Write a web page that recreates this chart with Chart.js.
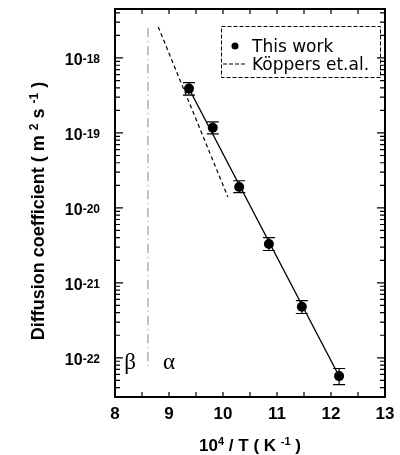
<!DOCTYPE html>
<html>
<head>
<meta charset="utf-8">
<script src="https://cdn.jsdelivr.net/npm/chart.js@4.4.0/dist/chart.umd.min.js"></script>
<style>
  html, body { margin: 0; padding: 0; background: #fff; }
  canvas { display: block; }
</style>
</head>
<body>
<canvas id="diffChart" width="400" height="455"></canvas>
<script>
// This work: 10^4/T and diffusion coefficient (m^2 s^-1)
const invT = [9.37, 9.81, 10.30, 10.85, 11.46, 12.15];
const diffCoef = [3.9e-19, 1.17e-19, 1.9e-20, 3.3e-21, 4.8e-22, 5.7e-23];
const errLow = [3.2e-19, 0.97e-19, 1.6e-20, 2.7e-21, 3.9e-22, 4.4e-23];
const errHigh = [4.7e-19, 1.4e-19, 2.3e-20, 4.0e-21, 5.8e-22, 7.2e-23];

// fit through this work
const fitX = [9.37, 12.15];
const fitY = [3.9e-19, 5.7e-23];

// Köppers et.al.
const koppersX = [8.80, 10.09];
const koppersY = [2.6e-18, 1.4e-20];

// beta / alpha boundary
const phaseX = [8.61, 8.61];
const phaseY = [2.5e-18, 7e-23];

// axes
const xTickLabels = [8, 9, 10, 11, 12, 13];
const xMinorTicks = [8.5, 9.5, 10.5, 11.5, 12.5];
const yExponents = [-18, -19, -20, -21, -22];

const FONT = '"Liberation Sans", Arial, sans-serif';

function toPoints(xs, ys) {
    return xs.map((x, i) => ({x: x, y: ys[i]}));
}

// text with raised small parts, parts = [[text, isSup], ...]
function richWidth(ctx, parts, size, supSize) {
    let w = 0;
    parts.forEach(p => {
        ctx.font = 'bold ' + (p[1] ? supSize : size) + 'px ' + FONT;
        w += ctx.measureText(p[0]).width;
    });
    return w;
}
function drawRich(ctx, parts, x, y, size, supSize, raise) {
    parts.forEach(p => {
        ctx.font = 'bold ' + (p[1] ? supSize : size) + 'px ' + FONT;
        ctx.fillText(p[0], x, p[1] ? y - raise : y);
        x += ctx.measureText(p[0]).width;
    });
}

const errorBars = {
    id: 'errorBars',
    beforeDatasetsDraw(chart) {
        const ctx = chart.ctx, xs = chart.scales.x, ys = chart.scales.y;
        ctx.save();
        ctx.strokeStyle = '#000';
        ctx.lineWidth = 1.2;
        invT.forEach((t, i) => {
            const px = xs.getPixelForValue(t);
            const top = ys.getPixelForValue(errHigh[i]);
            const bot = ys.getPixelForValue(errLow[i]);
            ctx.beginPath();
            ctx.moveTo(px, top); ctx.lineTo(px, bot);
            ctx.moveTo(px - 6, top); ctx.lineTo(px + 6, top);
            ctx.moveTo(px - 6, bot); ctx.lineTo(px + 6, bot);
            ctx.stroke();
        });
        ctx.restore();
    }
};

const frameAndLabels = {
    id: 'frameAndLabels',
    afterDraw(chart) {
        const ctx = chart.ctx, a = chart.chartArea, xs = chart.scales.x, ys = chart.scales.y;
        ctx.save();
        ctx.strokeStyle = '#000';
        ctx.fillStyle = '#000';

        // frame
        ctx.lineWidth = 2;
        ctx.strokeRect(a.left, a.top, a.right - a.left, a.bottom - a.top);

        // inward ticks
        ctx.lineWidth = 1.2;
        ctx.beginPath();
        xTickLabels.concat(xMinorTicks).forEach(v => {
            const px = xs.getPixelForValue(v);
            ctx.moveTo(px, a.bottom); ctx.lineTo(px, a.bottom - 5);
            ctx.moveTo(px, a.top); ctx.lineTo(px, a.top + 5);
        });
        for (let e = -23; e <= -18; e++) {
            for (let k = 1; k <= 9; k++) {
                const v = k * Math.pow(10, e);
                if (v < ys.min || v > ys.max) continue;
                const py = ys.getPixelForValue(v);
                const len = k === 1 ? 8 : 5;
                ctx.moveTo(a.left, py); ctx.lineTo(a.left + len, py);
                ctx.moveTo(a.right, py); ctx.lineTo(a.right - len, py);
            }
        }
        ctx.stroke();

        // x tick labels
        ctx.font = 'bold 17px ' + FONT;
        ctx.textAlign = 'center';
        ctx.textBaseline = 'alphabetic';
        xTickLabels.forEach(v => {
            ctx.fillText(String(v), xs.getPixelForValue(v), 419);
        });

        // y tick labels 10^n
        ctx.textAlign = 'left';
        yExponents.forEach(e => {
            const py = ys.getPixelForValue(Math.pow(10, e));
            const parts = [['10', false], [String(e), true]];
            const w = richWidth(ctx, parts, 16, 12);
            drawRich(ctx, parts, 100 - w, py + 7, 16, 12, 2);
        });

        // x title
        const xt = [['10', false], ['4', true], [' / T ( K ', false], ['-1', true], [' )', false]];
        const xw = richWidth(ctx, xt, 17, 11);
        drawRich(ctx, xt, (a.left + a.right) / 2 - xw / 2, 451, 17, 11, 6);

        // y title
        const yt = [['Diffusion coefficient ( m ', false], ['2', true], [' s ', false], ['-1', true], [' )', false]];
        ctx.save();
        ctx.translate(44, 211);
        ctx.rotate(-Math.PI / 2);
        const yw = richWidth(ctx, yt, 18, 12);
        drawRich(ctx, yt, -yw / 2, 0, 18, 12, 6);
        ctx.restore();

        // phase labels
        ctx.font = '23px "Liberation Serif", serif';
        ctx.textAlign = 'center';
        ctx.fillText('β', 130, 369);
        ctx.fillText('α', 169, 369);

        // legend
        ctx.lineWidth = 1;
        ctx.setLineDash([4, 2]);
        ctx.strokeRect(221.5, 26.5, 159, 51);
        ctx.beginPath();
        ctx.moveTo(223, 64); ctx.lineTo(246, 64);
        ctx.stroke();
        ctx.setLineDash([]);
        ctx.beginPath();
        ctx.arc(235, 46, 3.5, 0, Math.PI * 2);
        ctx.fill();
        ctx.font = '17px "DejaVu Sans", sans-serif';
        ctx.textAlign = 'left';
        ctx.fillText('This work', 252, 52);
        ctx.fillText('Köppers et.al.', 252, 70, 126);

        ctx.restore();
    }
};

new Chart(document.getElementById('diffChart').getContext('2d'), {
    type: 'scatter',
    data: {
        datasets: [
            {
                label: 'This work',
                data: toPoints(invT, diffCoef),
                backgroundColor: '#000',
                borderColor: '#000',
                pointRadius: 5,
                borderWidth: 0
            },
            {
                type: 'line',
                label: 'fit',
                data: toPoints(fitX, fitY),
                borderColor: '#000',
                borderWidth: 1.2,
                pointRadius: 0,
                fill: false
            },
            {
                type: 'line',
                label: 'Köppers et.al.',
                data: toPoints(koppersX, koppersY),
                borderColor: '#000',
                borderWidth: 1.2,
                borderDash: [4, 3],
                pointRadius: 0,
                fill: false
            },
            {
                type: 'line',
                label: 'phase boundary',
                data: toPoints(phaseX, phaseY),
                borderColor: '#888',
                borderWidth: 1,
                borderDash: [9, 4, 1, 4],
                pointRadius: 0,
                fill: false
            }
        ]
    },
    options: {
        responsive: false,
        animation: false,
        layout: {padding: {left: 115, right: 15, top: 9, bottom: 58}},
        scales: {
            x: {type: 'linear', min: 8, max: 13, display: false},
            y: {type: 'logarithmic', min: 3e-23, max: 4.5e-18, display: false}
        },
        plugins: {legend: {display: false}, tooltip: {enabled: false}}
    },
    plugins: [errorBars, frameAndLabels]
});
</script>
</body>
</html>
